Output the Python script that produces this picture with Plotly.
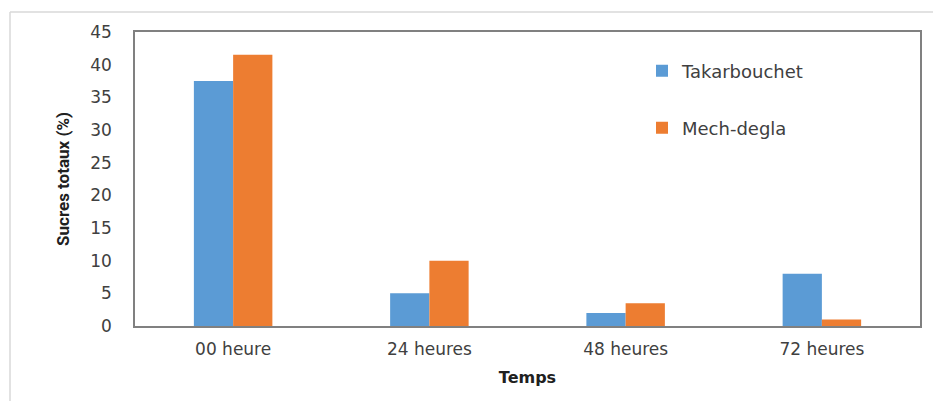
import plotly.graph_objects as go

categories = ["00 heure", "24 heures", "48 heures", "72 heures"]
takarbouchet = [37.5, 5.0, 2.0, 8.0]
mech_degla = [41.5, 10.0, 3.5, 1.0]

L, R, T, B = 135, 13, 32, 75
W, H = 933, 401
pw, ph = W - L - R, H - T - B

def px(x):
    return (x - L) / pw

def py(y):
    return (H - B - y) / ph

fig = go.Figure()
fig.add_bar(x=categories, y=takarbouchet, name="Takarbouchet", marker_color="#5b9bd5",
            marker_line_width=0, legend="legend")
fig.add_bar(x=categories, y=mech_degla, name="Mech-degla", marker_color="#ed7d31",
            marker_line_width=0, legend="legend2")

font = "DejaVu Sans, sans-serif"
txt = "#404040"
leg_common = dict(xanchor="left", yanchor="middle", font=dict(size=18, color=txt),
                  itemsizing="constant", bgcolor="rgba(0,0,0,0)", itemwidth=30)
fig.update_layout(
    width=W, height=H,
    margin=dict(l=L, r=R, t=T, b=B),
    paper_bgcolor="white", plot_bgcolor="white",
    barmode="group", bargap=0.6, bargroupgap=0,
    font=dict(family=font, size=15, color=txt),
    showlegend=True,
    legend=dict(x=px(642), y=py(71), **leg_common),
    legend2=dict(x=px(642), y=py(128), **leg_common),
    xaxis=dict(showline=True, linecolor="#808080", linewidth=1.5, mirror=True,
               ticks="", tickfont=dict(size=17, color=txt), ticklabelstandoff=7,
               title=dict(text="<b>Temps</b>", font=dict(size=16, color="#202020"), standoff=14)),
    yaxis=dict(range=[0, 45], dtick=5, showgrid=False, showline=True, linecolor="#808080",
               linewidth=1.5, mirror=True, ticks="", zeroline=False,
               tickfont=dict(size=17, color=txt), ticklabelstandoff=18,
               title=dict(text="<b>Sucres totaux (%)</b>",
                          font=dict(family="Liberation Sans Narrow, Roboto, sans-serif", size=17, color="#202020"),
                          standoff=16)),
)

# outer light frame
fig.add_shape(type="line", xref="paper", yref="paper", x0=px(10), x1=px(933), y0=py(12), y1=py(12),
              line=dict(color="#d9d9d9", width=1.5))
fig.add_shape(type="line", xref="paper", yref="paper", x0=px(10), x1=px(10), y0=py(12), y1=py(401),
              line=dict(color="#d9d9d9", width=1.5))

fig.write_html("out.html", config={"displayModeBar": False},
               post_script="document.body.style.margin='0';")
